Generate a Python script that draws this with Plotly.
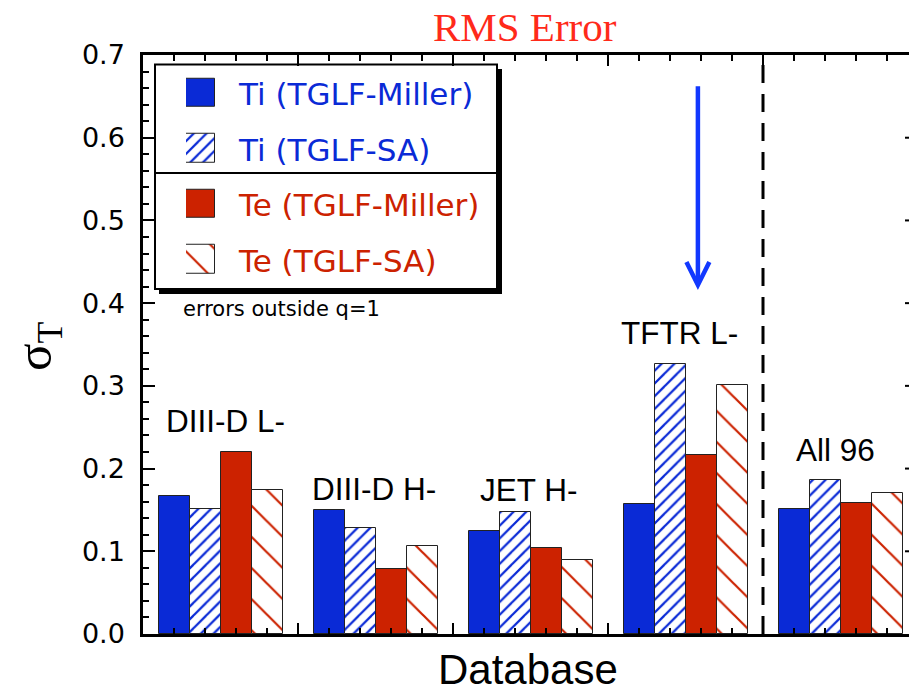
import plotly.graph_objects as go
import numpy as np

# ---------------- data ----------------
groups = ["DIII-D L-", "DIII-D H-", "JET H-", "TFTR L-", "All 96"]
ti_miller = [0.167, 0.150, 0.125, 0.157, 0.151]
ti_sa = [0.151, 0.128, 0.147, 0.326, 0.186]
te_miller = [0.220, 0.079, 0.104, 0.217, 0.158]
te_sa = [0.174, 0.107, 0.089, 0.301, 0.170]
series_names = ["Ti (TGLF-Miller)", "Ti (TGLF-SA)", "Te (TGLF-Miller)", "Te (TGLF-SA)"]
y_tick_vals = [0.0, 0.1, 0.2, 0.3, 0.4, 0.5, 0.6, 0.7]

# ---------------- layout constants ----------------
W, H = 909, 694
ML, MR, MT, MB = 143, 0, 55, 60
UNIT = 31.0                      # pixels per x unit
XMAX = (W - ML - MR) / UNIT
PW, PH = W - ML - MR, H - MT - MB

BLUE = "#0a2ad6"
RED = "#cc2200"
TITLE_RED = "#ff2a1a"
ARROW_BLUE = "#1238ff"


def px_x(px):
    return (px - ML) / PW


def px_y(py):
    return (H - MB - py) / PH


styles = [
    dict(color=BLUE),
    dict(color="white", pattern=dict(shape="/", fgcolor=BLUE, bgcolor="white",
                                     size=9, solidity=0.25, fillmode="replace")),
    dict(color=RED),
    dict(color="white", pattern=dict(shape="\\", fgcolor=RED, bgcolor="white",
                                     size=22, solidity=0.1, fillmode="replace")),
]
series = [ti_miller, ti_sa, te_miller, te_sa]

fig = go.Figure()

for k, (vals, st, name) in enumerate(zip(series, styles, series_names)):
    xs = [5 * g + k + 1 for g in range(len(groups))]
    fig.add_trace(go.Bar(
        x=xs, y=vals, width=[1.0] * len(xs), name=name,
        marker=dict(line=dict(color="#222222", width=1), **st),
        showlegend=False, hoverinfo="skip",
    ))

# ---- legend swatches (drawn as bars in a small helper subplot) ----
row_centers_px = [92.5, 148.0, 203.5, 259.0]
pitch = 55.5
sw_h = 28.5 / pitch
for i, st in enumerate(styles):
    fig.add_trace(go.Bar(
        x=[0.5], y=[sw_h], base=[i + 0.5 - sw_h / 2], width=[1.0],
        marker=dict(line=dict(color="#222222", width=1), **st),
        xaxis="x2", yaxis="y2", showlegend=False, hoverinfo="skip",
    ))

leg_top = row_centers_px[0] - pitch / 2
leg_bot = row_centers_px[-1] + pitch / 2

shapes = []
# legend shadow + box
shapes.append(dict(type="rect", xref="paper", yref="paper",
                   x0=px_x(159), x1=px_x(502), y0=px_y(294), y1=px_y(69),
                   fillcolor="black", line=dict(width=0), layer="below"))
shapes.append(dict(type="rect", xref="paper", yref="paper",
                   x0=px_x(155), x1=px_x(497), y0=px_y(289), y1=px_y(64.5),
                   fillcolor="white", line=dict(color="black", width=2), layer="below"))
shapes.append(dict(type="line", xref="paper", yref="paper",
                   x0=px_x(155), x1=px_x(497), y0=px_y(173), y1=px_y(173),
                   line=dict(color="black", width=2), layer="above"))
# dashed separator before "All 96"
SEP_X = 20
shapes.append(dict(type="line", xref="x", yref="paper", x0=SEP_X, x1=SEP_X, y0=0, y1=1,
                   line=dict(color="black", width=3, dash="18px,11px"), layer="above"))
# right-side tick stubs (axis itself lies just outside the picture)
for v in y_tick_vals[1:-1]:
    shapes.append(dict(type="line", xref="paper", yref="y", x0=px_x(905), x1=1.0,
                       y0=v, y1=v, line=dict(color="black", width=2), layer="above"))

annotations = []
annotations.append(dict(text="RMS Error", xref="paper", yref="paper",
                        x=px_x(525), y=px_y(27.5), xanchor="center", yanchor="middle",
                        showarrow=False,
                        font=dict(family="Liberation Serif", size=41, color=TITLE_RED)))
annotations.append(dict(text="Database", xref="paper", yref="paper",
                        x=px_x(528), y=px_y(693.5), xanchor="center", yanchor="bottom",
                        showarrow=False, borderpad=0,
                        font=dict(family="Liberation Sans", size=42, color="black")))
annotations.append(dict(text="σ<sub>T</sub>", xref="paper", yref="paper",
                        x=px_x(38), y=px_y(346), xanchor="center", yanchor="middle",
                        textangle=-90, showarrow=False,
                        font=dict(family="Liberation Serif", size=51, color="black")))

label_pos = [(2.66, 0.257), (7.45, 0.175), (12.45, 0.174), (17.3, 0.364), (22.35, 0.222)]
for lab, (lx, ly) in zip(groups, label_pos):
    annotations.append(dict(text=lab, xref="x", yref="y", x=lx, y=ly,
                            xanchor="center", yanchor="middle", showarrow=False,
                            font=dict(family="Liberation Sans", size=31.5, color="black")))

leg_colors = [BLUE, BLUE, RED, RED]
for name, c, cy in zip(series_names, leg_colors, row_centers_px):
    annotations.append(dict(text=name, xref="paper", yref="paper",
                            x=px_x(236), y=px_y(cy + 2), xanchor="left", yanchor="middle",
                            showarrow=False,
                            font=dict(family="DejaVu Sans", size=31, color=c)))

annotations.append(dict(text="errors outside q=1", xref="paper", yref="paper",
                        x=px_x(181), y=px_y(309), xanchor="left", yanchor="middle",
                        showarrow=False,
                        font=dict(family="DejaVu Sans", size=21, color="black")))

# arrow pointing at TFTR
ARROW_X, ARROW_TAIL, ARROW_TIP = 17.9, 0.664, 0.416
annotations.append(dict(text="", xref="x", yref="y", axref="x", ayref="y",
                        x=ARROW_X, y=ARROW_TIP, ax=ARROW_X, ay=ARROW_TAIL,
                        showarrow=True, arrowhead=5, arrowwidth=4.5, arrowsize=1.0,
                        arrowcolor=ARROW_BLUE, standoff=0))

fig.update_layout(
    width=W, height=H,
    margin=dict(l=ML, r=MR, t=MT, b=MB, pad=0),
    paper_bgcolor="white", plot_bgcolor="rgba(0,0,0,0)",
    barmode="overlay", bargap=0,
    showlegend=False,
    shapes=shapes, annotations=annotations,
    xaxis=dict(range=[0, XMAX], showgrid=False, zeroline=False,
               showline=True, linecolor="black", linewidth=2.5, mirror="allticks",
               ticks="inside", tickmode="linear", tick0=0, dtick=5, ticklen=11,
               tickwidth=2, tickcolor="black", showticklabels=False,
               minor=dict(ticks="inside", dtick=1, tick0=0, ticklen=6,
                          tickwidth=2, tickcolor="black", showgrid=False)),
    yaxis=dict(range=[0, 0.7], showgrid=False, zeroline=False,
               showline=True, linecolor="black", linewidth=2.5, mirror=False,
               ticks="inside", tickvals=y_tick_vals, ticklen=12, tickwidth=2,
               tickcolor="black", tickformat=".1f", ticklabelstandoff=10,
               tickfont=dict(family="DejaVu Sans", size=27, color="black"),
               minor=dict(ticks="inside", dtick=0.02, tick0=0, ticklen=6,
                          tickwidth=2, tickcolor="black", showgrid=False)),
    xaxis2=dict(domain=[px_x(186), px_x(215)], range=[0, 1], visible=False,
                anchor="y2", fixedrange=True),
    yaxis2=dict(domain=[px_y(leg_bot), px_y(leg_top)], range=[len(styles), 0],
                visible=False, anchor="x2", fixedrange=True),
)

fig.write_html("out.html")
